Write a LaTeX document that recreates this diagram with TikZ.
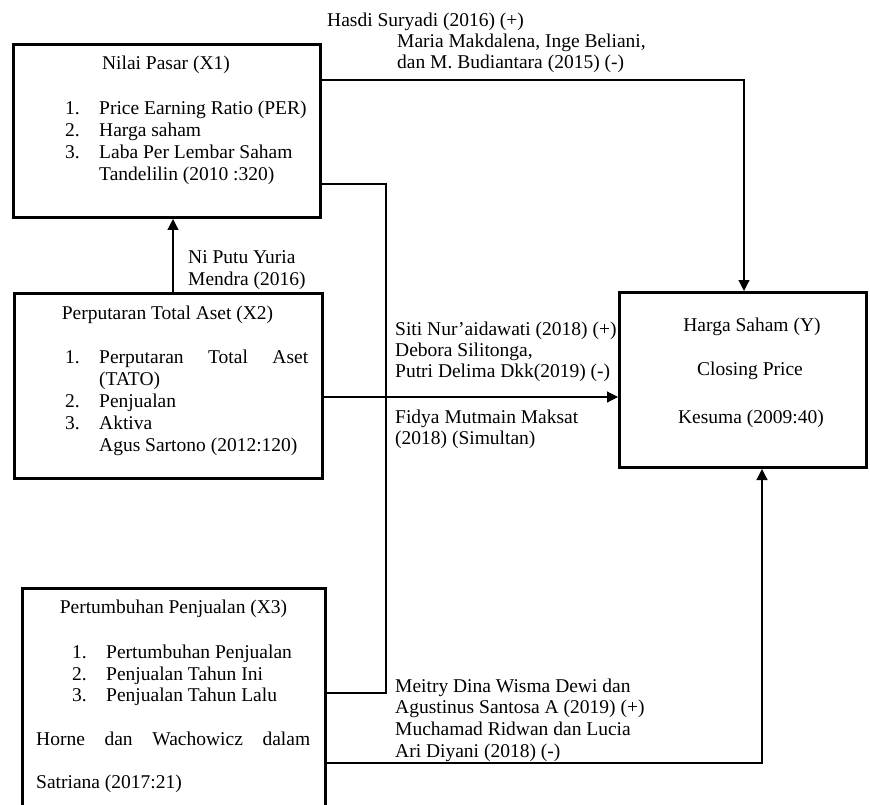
\documentclass[tikz,border=0pt]{standalone}
\usepackage{fontspec}
\setmainfont{Liberation Serif}
\usetikzlibrary{arrows.meta}
\tikzset{
  box/.style={draw, line width=3pt, inner sep=0pt, fill=none},
  conn/.style={draw, line width=1.2pt},
  arr/.style={conn, -{Triangle[length=11pt,width=11pt]}},
  tl/.style={anchor=base west, inner sep=0pt},
  tc/.style={anchor=base, inner sep=0pt},
}
\begin{document}
\begin{tikzpicture}[x=1pt,y=-1pt,font=\fontsize{19.5pt}{22pt}\selectfont]
\useasboundingbox (0,0) rectangle (870,805);
% boxes
\node[box, minimum width=307pt, minimum height=173pt] (x1) at (167,131) {};
\node[box, minimum width=308pt, minimum height=185pt] (x2) at (168.5,386) {};
\node[box, minimum width=303pt, minimum height=240pt] (x3) at (174,708.5) {};
\node[box, minimum width=247pt, minimum height=175pt] (y) at (743,380) {};
% connectors
\draw[arr] (x1.east |- 0,80) -| ([xshift=1pt]y.north);
\draw[conn] (x1.east |- 0,184) -- (386,184) |- (x3.east |- 0,693);
\draw[arr] (x2.north -| 173,0) -- (x1.south -| 173,0);
\draw[arr] (x2.east |- 0,397) -- (y.west |- 0,397);
\draw[arr] (x3.east |- 0,763) -| ([xshift=19pt]y.south);
% top labels
\node[tl] (l1a) at (327,27) {Hasdi Suryadi (2016) (+)};
\node[tl] (l1b) at (397,48) {Maria Makdalena, Inge Beliani,};
\node[tl] (l1c) at (397,69) {dan M. Budiantara (2015) (-)};
% X1 text
\node[tc] (x1t) at (166,70) {Nilai Pasar (X1)};
\node[tl] (x1n1) at (65,115) {1.};
\node[tl] (x1i1) at (99,115) {Price Earning Ratio (PER)};
\node[tl] (x1n2) at (65,137) {2.};
\node[tl] (x1i2) at (99,137) {Harga saham};
\node[tl] (x1n3) at (65,159) {3.};
\node[tl] (x1i3) at (99,159) {Laba Per Lembar Saham};
\node[tl] (x1s) at (99,181) {Tandelilin (2010 :320)};
% X2 -> X1 label
\node[tl] (l2a) at (188,263) {Ni Putu Yuria};
\node[tl] (l2b) at (188,285) {Mendra (2016)};
% X2 text
\node[tc] (x2t) at (167.5,319) {Perputaran Total Aset (X2)};
\node[tl] (x2n1) at (65,363) {1.};
\node[tl] (x2i1) at (99,363) {\makebox[209pt][s]{Perputaran Total Aset}};
\node[tl] (x2i1b) at (99,385) {(TATO)};
\node[tl] (x2n2) at (65,407) {2.};
\node[tl] (x2i2) at (99,407) {Penjualan};
\node[tl] (x2n3) at (65,429) {3.};
\node[tl] (x2i3) at (99,429) {Aktiva};
\node[tl] (x2s) at (99,451) {Agus Sartono (2012:120)};
% middle labels
\node[tl] (l3a) at (395,335) {Siti Nur’aidawati (2018) (+)};
\node[tl] (l3b) at (395,356) {Debora Silitonga,};
\node[tl] (l3c) at (395,377) {Putri Delima Dkk(2019) (-)};
\node[tl] (l3d) at (395,423) {Fidya Mutmain Maksat};
\node[tl] (l3e) at (395,444) {(2018) (Simultan)};
% Y text
\node[tc] (yt) at (752,331) {Harga Saham (Y)};
\node[tc] (yi) at (750,375) {Closing Price};
\node[tc] (ys) at (751,423) {Kesuma (2009:40)};
% X3 text
\node[tc] (x3t) at (173.5,613) {Pertumbuhan Penjualan (X3)};
\node[tl] (x3n1) at (72,658) {1.};
\node[tl] (x3i1) at (106,658) {Pertumbuhan Penjualan};
\node[tl] (x3n2) at (72,680) {2.};
\node[tl] (x3i2) at (106,680) {Penjualan Tahun Ini};
\node[tl] (x3n3) at (72,701) {3.};
\node[tl] (x3i3) at (106,701) {Penjualan Tahun Lalu};
\node[tl] (x3s1) at (36,745) {\makebox[274pt][s]{Horne dan Wachowicz dalam}};
\node[tl] (x3s2) at (36,788) {Satriana (2017:21)};
% bottom labels
\node[tl] (l4a) at (395,692) {Meitry Dina Wisma Dewi dan};
\node[tl] (l4b) at (395,713) {Agustinus Santosa A (2019) (+)};
\node[tl] (l4c) at (395,735) {Muchamad Ridwan dan Lucia};
\node[tl] (l4d) at (395,757) {Ari Diyani (2018) (-)};
\end{tikzpicture}
\end{document}
